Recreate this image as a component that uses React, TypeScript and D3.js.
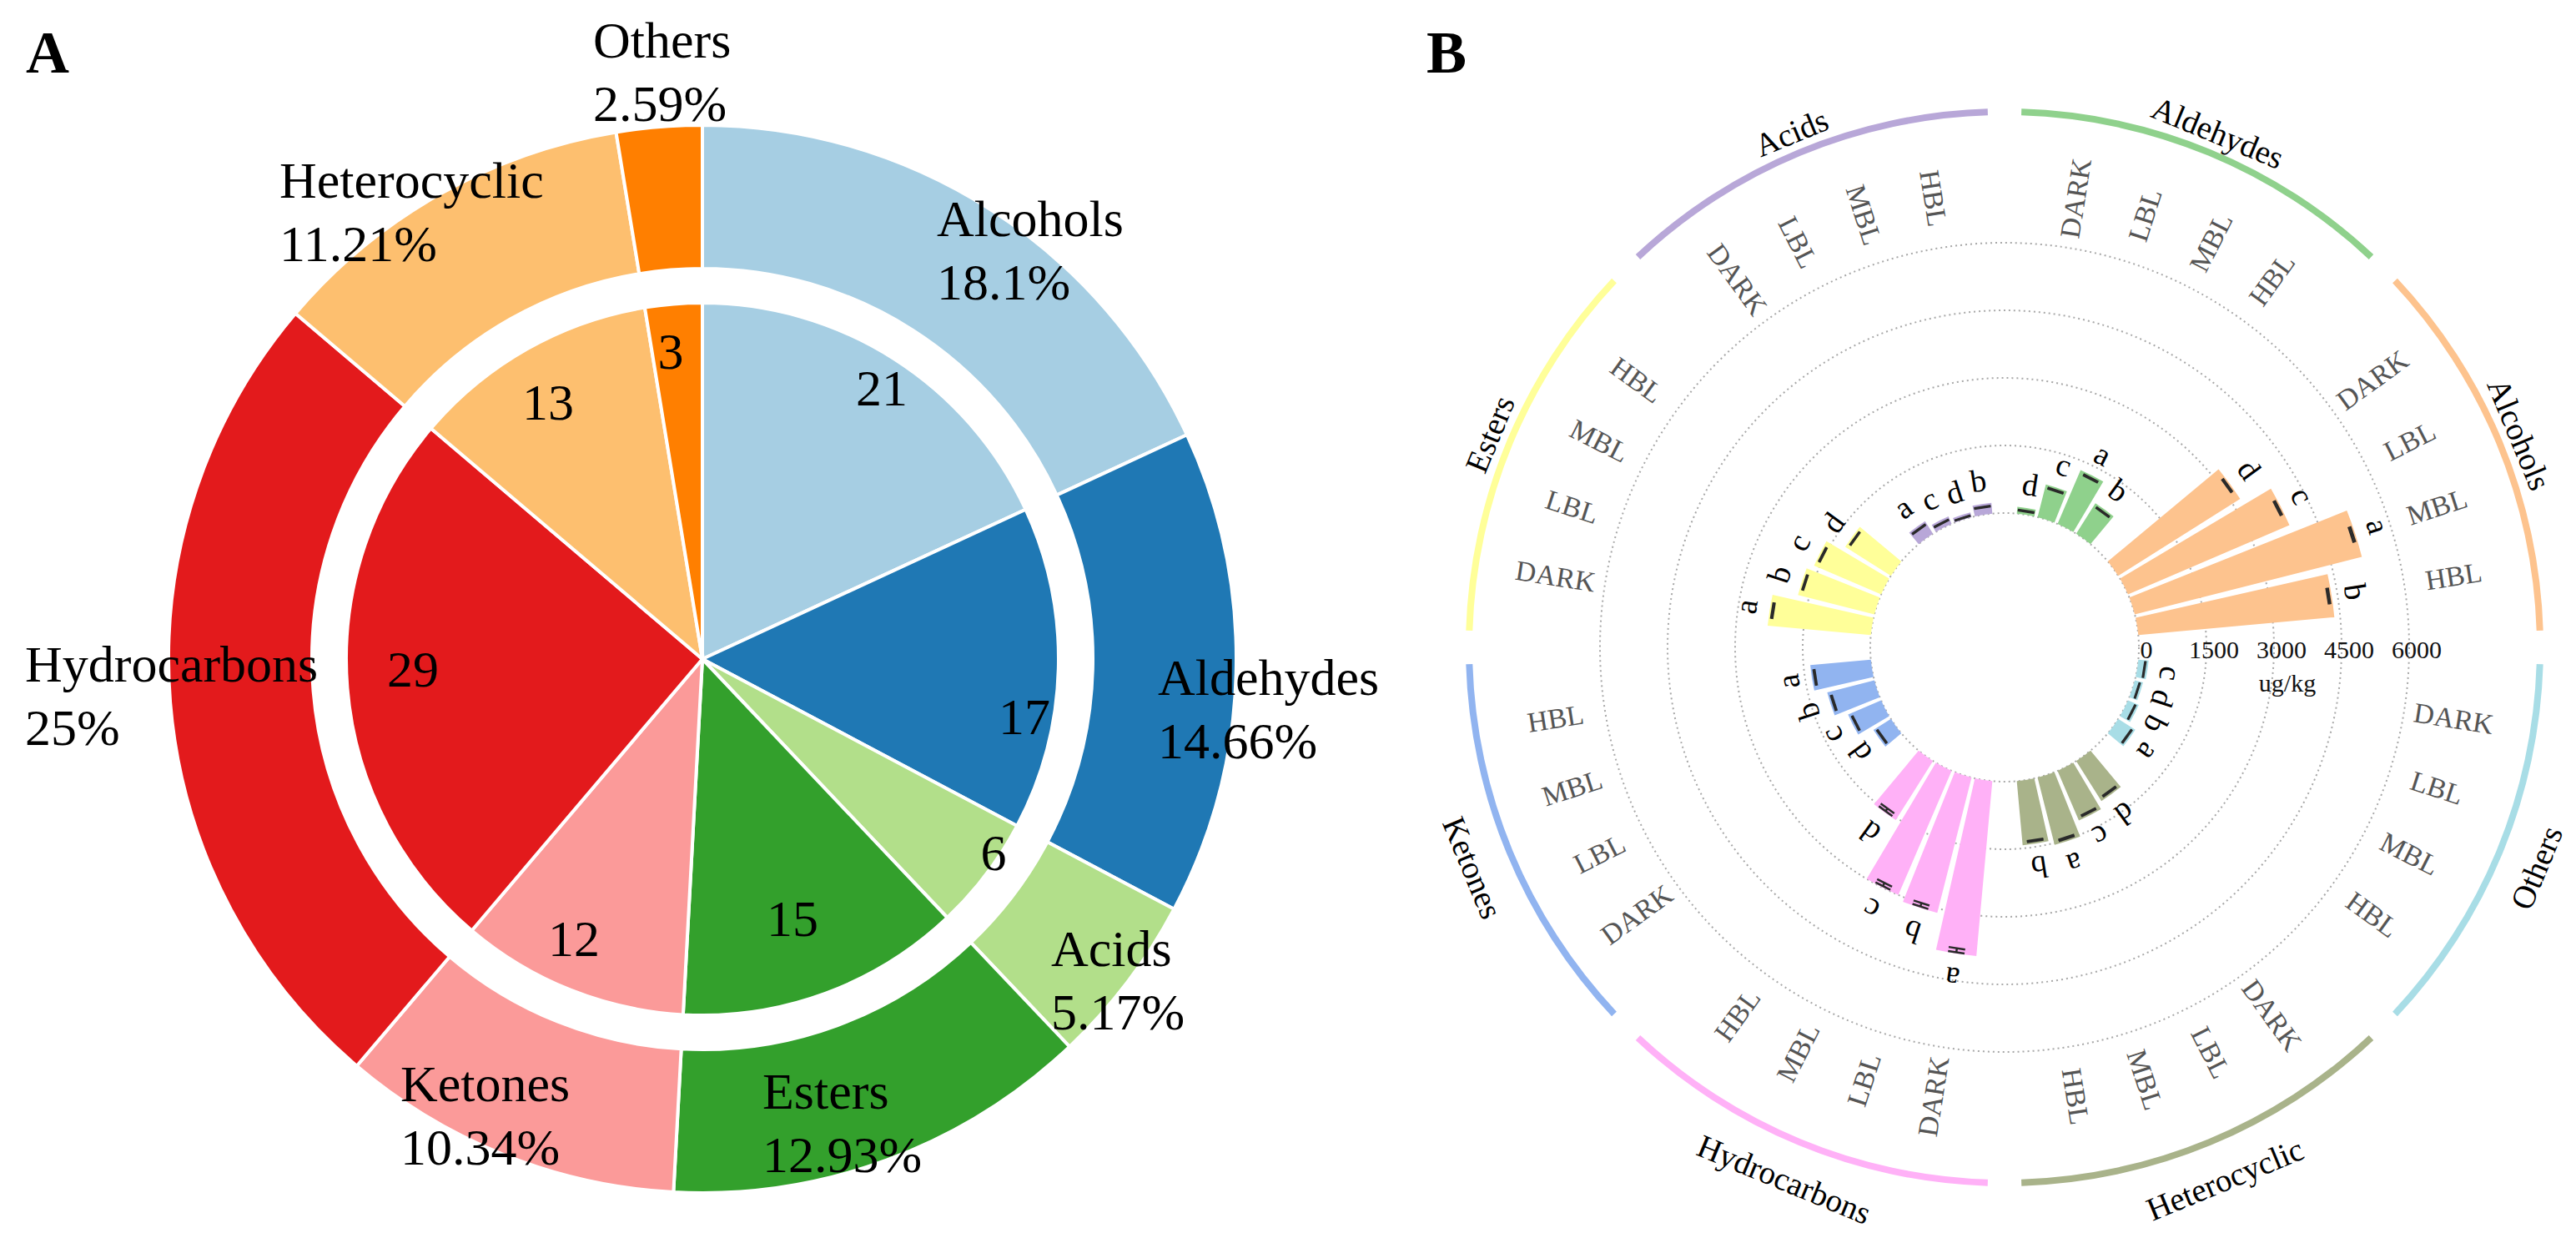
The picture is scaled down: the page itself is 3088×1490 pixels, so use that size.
import React from "react";
import * as d3 from "d3";

// ---------------- data ----------------
const categories = ["Alcohols", "Aldehydes", "Acids", "Esters", "Ketones", "Hydrocarbons", "Heterocyclic", "Others"];
const compoundCounts = [21, 17, 6, 15, 12, 29, 13, 3];
const pieColors = ["#a6cee3", "#1f78b4", "#b2df8a", "#33a02c", "#fb9a99", "#e31a1c", "#fdbf6f", "#ff7f00"];

const conditions = ["DARK", "LBL", "MBL", "HBL"];
// content (ug/kg) per condition: DARK, LBL, MBL, HBL
const alcoholsContent = [3200, 3900, 5200, 4370];
const aldehydesContent = [150, 750, 1300, 800];
const acidsContent = [330, 180, 110, 240];
const estersContent = [2300, 1750, 1620, 1200];
const ketonesContent = [460, 800, 1080, 1350];
const hydrocarbonsContent = [3900, 3100, 3000, 1550];
const heterocyclicContent = [1050, 1200, 1540, 1430];
const othersContent = [230, 190, 260, 450];

const alcoholsSd = [15, 18, 20, 18];
const aldehydesSd = [8, 10, 12, 10];
const acidsSd = [8, 6, 6, 7];
const estersSd = [15, 12, 12, 10];
const ketonesSd = [10, 10, 12, 12];
const hydrocarbonsSd = [45, 40, 40, 35];
const heterocyclicSd = [12, 12, 15, 12];
const othersSd = [6, 5, 6, 8];

const alcoholsLetters = ["d", "c", "a", "b"];
const aldehydesLetters = ["d", "c", "a", "b"];
const acidsLetters = ["a", "c", "d", "b"];
const estersLetters = ["a", "b", "c", "d"];
const ketonesLetters = ["d", "c", "b", "a"];
const hydrocarbonsLetters = ["a", "b", "c", "d"];
const heterocyclicLetters = ["d", "c", "a", "b"];
const othersLetters = ["c", "d", "b", "a"];

const polarColors = ["#fdc38e", "#8fd18c", "#b8a7d8", "#ffff99", "#91b4f0", "#ffb1f7", "#a9b38a", "#a8dde6"];
const radialTicks = [0, 1500, 3000, 4500, 6000];
const axisUnit = "ug/kg";

const contentTable = [alcoholsContent, aldehydesContent, acidsContent, estersContent, ketonesContent, hydrocarbonsContent, heterocyclicContent, othersContent];
const sdTable = [alcoholsSd, aldehydesSd, acidsSd, estersSd, ketonesSd, hydrocarbonsSd, heterocyclicSd, othersSd];
const letterTable = [alcoholsLetters, aldehydesLetters, acidsLetters, estersLetters, ketonesLetters, hydrocarbonsLetters, heterocyclicLetters, othersLetters];

// ---------------- layout ----------------
const W = 3088;
const H = 1490;
const FONT = "'Liberation Serif','Times New Roman',Times,serif";

// pie label anchor offsets (start x, first baseline) relative to pie centre
const pieLabelOffset: [number, number][] = [
  [281, -507],
  [546, 43],
  [418, 368],
  [72, 539],
  [-362, 530],
  [-812, 27],
  [-507, -553],
  [-131, -721],
];
// inner count label centres relative to pie centre
const countLabelOffset: [number, number][] = [
  [215, -325],
  [386, 69],
  [349, 232],
  [108, 311],
  [-154, 335],
  [-347, 12],
  [-185, -308],
  [-38, -369],
];

const toRad = (deg: number) => (deg * Math.PI) / 180;

export default function App() {
  // ---------- Panel A ----------
  const cxA = 842;
  const cyA = 790;
  const total = d3.sum(compoundCounts);
  const pieGen = d3.pie<number>().sort(null).value((d) => d);
  const slices = pieGen(compoundCounts);
  const outerArc = d3.arc<d3.PieArcDatum<number>>().innerRadius(468).outerRadius(640);
  const innerArc = d3.arc<d3.PieArcDatum<number>>().innerRadius(0).outerRadius(427);
  const fmtPct = (v: number) => `${+(v * 100).toFixed(2)}%`;

  // ---------- Panel B ----------
  const cxB = 2403;
  const cyB = 776;
  const rScale = d3.scaleLinear().domain([0, 6000]).range([161, 485]);
  // keys counter-clockwise from 3 o'clock
  const keys: string[] = [];
  categories.forEach((c, i) => {
    keys.push(`gap-${i}`);
    [3, 2, 1, 0].forEach((j) => keys.push(`${i}|${j}`));
  });
  const band = d3.scaleBand<string>().domain(keys).range([-4.5, 355.5]).paddingInner(0.16).paddingOuter(0.08);
  const bw = band.bandwidth();
  const cw = (ccw: number) => 90 - ccw;
  const polar = (thetaDeg: number, rad: number): [number, number] => [
    rad * Math.sin(toRad(thetaDeg)),
    -rad * Math.cos(toRad(thetaDeg)),
  ];
  const norm = (deg: number) => ((deg % 360) + 360) % 360;
  const barArc = d3.arc<any>();
  const sectorArc = d3.arc<any>();

  const bars: any[] = [];
  categories.forEach((c, i) => {
    conditions.forEach((cond, j) => {
      const b0 = band(`${i}|${j}`)!;
      const v = contentTable[i][j];
      bars.push({
        i,
        j,
        cond,
        v,
        sd: sdTable[i][j],
        letter: letterTable[i][j],
        start: cw(b0 + bw),
        end: cw(b0),
        mid: cw(b0 + bw / 2),
        color: polarColors[i],
      });
    });
  });

  return (
    <svg
      width={W}
      height={H}
      viewBox={`0 0 ${W} ${H}`}
      style={{ position: "absolute", left: 0, top: 0, background: "#fff" }}
      fontFamily={FONT}
    >
      <rect x={0} y={0} width={W} height={H} fill="#fff" />
      {/* ---------------- Panel A ---------------- */}
      <text x={31} y={87} fontSize={72} fontWeight="bold" fill="#000">A</text>
      <g transform={`translate(${cxA},${cyA})`}>
        {slices.map((s, i) => (
          <path key={`o${i}`} d={outerArc(s)!} fill={pieColors[i]} stroke="#fff" strokeWidth={4} />
        ))}
        {slices.map((s, i) => (
          <path key={`in${i}`} d={innerArc(s)!} fill={pieColors[i]} stroke="#fff" strokeWidth={4} />
        ))}
        {slices.map((s, i) => {
          const [x, y] = countLabelOffset[i];
          return (
            <text key={`n${i}`} x={x} y={y} fontSize={62} textAnchor="middle" dominantBaseline="central" fill="#000">
              {compoundCounts[i]}
            </text>
          );
        })}
        {categories.map((c, i) => {
          const [dx, dy] = pieLabelOffset[i];
          return (
            <text key={`l${i}`} x={dx} y={dy} fontSize={62} fill="#000">
              <tspan x={dx} y={dy}>{c}</tspan>
              <tspan x={dx} y={dy + 76}>{fmtPct(compoundCounts[i] / total)}</tspan>
            </text>
          );
        })}
      </g>

      {/* ---------------- Panel B ---------------- */}
      <text x={1710} y={87} fontSize={72} fontWeight="bold" fill="#000">B</text>
      <g transform={`translate(${cxB},${cyB})`}>
        {radialTicks.map((t) => (
          <circle key={`g${t}`} r={rScale(t)} fill="none" stroke="#a8a8a8" strokeWidth={2} strokeDasharray="2 4" />
        ))}
        {bars.map((b, k) => (
          <path
            key={`b${k}`}
            d={barArc({ innerRadius: rScale(0), outerRadius: rScale(b.v), startAngle: toRad(b.start), endAngle: toRad(b.end) })!}
            fill={b.color}
          />
        ))}
        {bars.map((b, k) => {
          const t = toRad(b.mid);
          const tx = Math.cos(t);
          const ty = Math.sin(t);
          const h = 10;
          const [x1, y1] = polar(b.mid, rScale(b.v - b.sd) - 4);
          const [x2, y2] = polar(b.mid, rScale(b.v + b.sd) - 4);
          return (
            <g key={`e${k}`} stroke="#2a2a2a" strokeWidth={2.5}>
              <line x1={x1} y1={y1} x2={x2} y2={y2} />
              <line x1={x1 - tx * h} y1={y1 - ty * h} x2={x1 + tx * h} y2={y1 + ty * h} />
              <line x1={x2 - tx * h} y1={y2 - ty * h} x2={x2 + tx * h} y2={y2 + ty * h} />
            </g>
          );
        })}
        {bars.map((b, k) => {
          const [x, y] = polar(b.mid, rScale(b.v + b.sd) + 28);
          return (
            <text
              key={`t${k}`}
              transform={`translate(${x},${y}) rotate(${b.mid})`}
              fontSize={38}
              textAnchor="middle"
              dominantBaseline="central"
              fill="#000"
            >
              {b.letter}
            </text>
          );
        })}
        {bars.map((b, k) => {
          const th = norm(b.mid);
          const [x, y] = polar(th, 545);
          const rot = th > 0 && th < 180 ? th - 90 : th + 90;
          return (
            <text
              key={`c${k}`}
              transform={`translate(${x},${y}) rotate(${rot})`}
              fontSize={34}
              textAnchor="middle"
              dominantBaseline="central"
              fill="#555"
            >
              {b.cond}
            </text>
          );
        })}
        {categories.map((c, i) => {
          const a0 = cw(45 * (i + 1) - 1.8);
          const a1 = cw(45 * i + 1.8);
          return (
            <path
              key={`s${i}`}
              d={sectorArc({ innerRadius: 638, outerRadius: 646, startAngle: toRad(a0), endAngle: toRad(a1) })!}
              fill={polarColors[i]}
            />
          );
        })}
        {categories.map((c, i) => {
          const th = norm(cw(45 * i + 22.5));
          const top = th < 90 || th > 270;
          const rot = top ? th : th - 180;
          const [x, y] = polar(th, top ? 668 : 690);
          return (
            <text
              key={`cl${i}`}
              transform={`translate(${x},${y}) rotate(${rot})`}
              fontSize={39}
              textAnchor="middle"
              dominantBaseline="central"
              fill="#000"
            >
              {c}
            </text>
          );
        })}
        {radialTicks.map((t) => (
          <text key={`tk${t}`} x={rScale(t) + 9} y={2} fontSize={30} textAnchor="middle" dominantBaseline="central" fill="#111">
            {t}
          </text>
        ))}
        <text x={339} y={42} fontSize={30} textAnchor="middle" dominantBaseline="central" fill="#111">
          {axisUnit}
        </text>
      </g>
    </svg>
  );
}
